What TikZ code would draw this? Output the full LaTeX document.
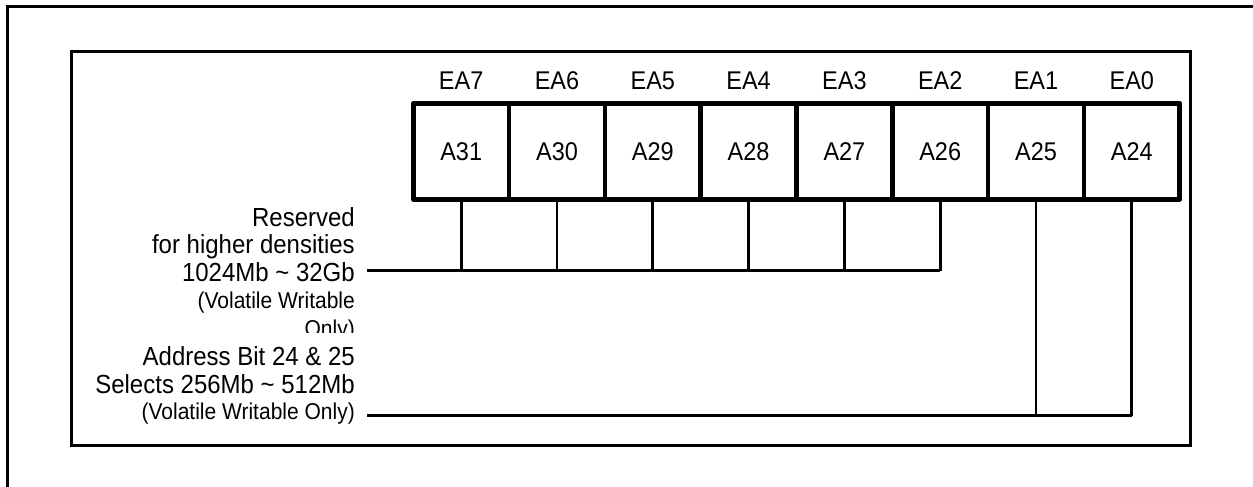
\documentclass[tikz,border=0pt]{standalone}
\usepackage{fontspec}
\usepackage{graphicx}
\setmainfont{Liberation Sans}
\newcommand{\vstretch}[1]{\scalebox{1}[1.09]{#1}}
\begin{document}
\begin{tikzpicture}[x=1pt,y=-1pt,
  frame/.style={line width=3pt},
  cell/.style={draw,line width=4.5pt,line join=round,minimum width=95.8pt,minimum height=96pt,inner sep=0pt,font=\fontsize{23.5}{28}\selectfont},
  ealab/.style={anchor=base,inner sep=0pt,font=\fontsize{23.5}{28}\selectfont},
  big/.style={anchor=base east,inner sep=0pt,font=\fontsize{24}{28}\selectfont},
  small/.style={anchor=base east,inner sep=0pt,font=\fontsize{21}{25}\selectfont},
  wire/.style={line width=2.8pt}]
\useasboundingbox (0,0) rectangle (1253,487);
% frames
\draw[frame] (7,490) -- (7,7) -- (1256,7);
\draw[frame] (71.7,51.7) rectangle (1190,445);
% register cells
\foreach \i/\n/\e in {0/31/7,1/30/6,2/29/5,3/28/4,4/27/3,5/26/2,6/25/1,7/24/0}{
  \node[cell] (c\e) at ({413.3+95.8*(\i+0.5)},151.3) {\raisebox{-1pt}{\vstretch{A\n}}};
  \node[ealab] (ea\e) at ({413.3+95.8*(\i+0.5)},89.3) {\vstretch{EA\e}};
}
% left texts
\node[big] (r1) at (355,226) {\vstretch{Reserved}};
\node[big] (r2) at (355,253.3) {\vstretch{for higher densities}};
\node[big] (r3) at (355,281.7) {\vstretch{1024Mb \textasciitilde{} 32Gb}};
\node[small] (r4) at (355,308.3) {\vstretch{(Volatile Writable}};
\begin{scope}
\clip (80,300) rectangle (400,332.5);
\node[small] (r5) at (355,336) {\vstretch{Only)}};
\end{scope}
\node[big] (s1) at (355,365) {\vstretch{Address Bit 24 \& 25}};
\node[big] (s2) at (355,393.3) {\vstretch{Selects 256Mb \textasciitilde{} 512Mb}};
\node[small] (s3) at (355,419.3) {\vstretch{(Volatile Writable Only)}};
% connectors
\coordinate (j1) at (367,270.7);
\coordinate (j2) at (367,415.5);
\draw[wire] (j1) -- (c2.south |- j1);
\foreach \e in {7,6,5,4,3,2}{
  \draw[wire] (c\e.south) -- (c\e.south |- j1);
}
\draw[wire] (j2) -- (c0.south |- j2);
\foreach \e in {1,0}{
  \draw[wire] (c\e.south) -- (c\e.south |- j2);
}
\end{tikzpicture}
\end{document}
